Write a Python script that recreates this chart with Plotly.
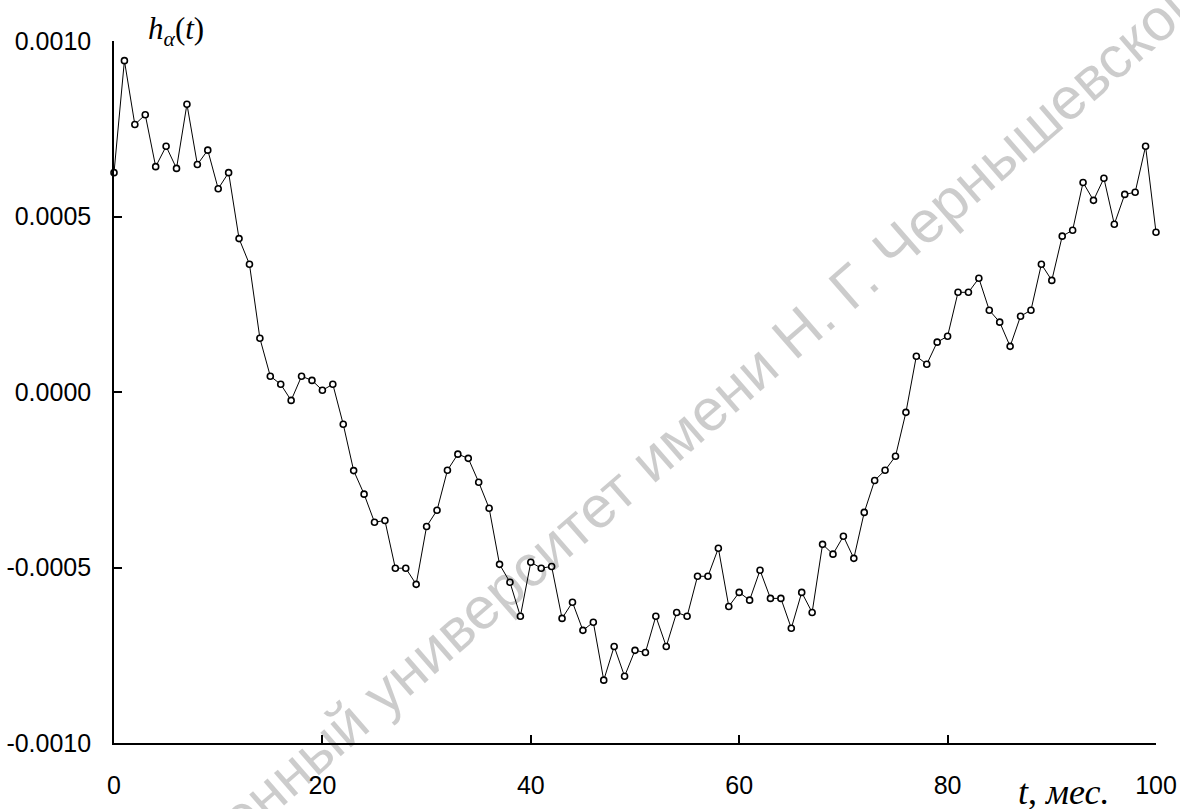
import plotly.graph_objects as go

# monthly values of h_alpha(t), in units of 1e-3
t_months = list(range(0, 101))
h_milli = [
    0.625, 0.944, 0.762, 0.790, 0.642, 0.700, 0.637, 0.820, 0.648, 0.689,
    0.579, 0.625, 0.437, 0.364, 0.153, 0.045, 0.022, -0.024, 0.045, 0.033,
    0.005, 0.022, -0.092, -0.224, -0.291, -0.371, -0.366, -0.502, -0.502, -0.548,
    -0.383, -0.337, -0.223, -0.177, -0.189, -0.257, -0.331, -0.491, -0.542, -0.639,
    -0.485, -0.502, -0.497, -0.645, -0.599, -0.679, -0.656, -0.821, -0.725, -0.810,
    -0.736, -0.742, -0.639, -0.725, -0.628, -0.639, -0.525, -0.525, -0.445, -0.611,
    -0.571, -0.593, -0.508, -0.588, -0.588, -0.673, -0.571, -0.628, -0.434, -0.462,
    -0.411, -0.474, -0.343, -0.252, -0.223, -0.183, -0.058, 0.102, 0.079, 0.142,
    0.159, 0.284, 0.284, 0.324, 0.233, 0.199, 0.130, 0.216, 0.233, 0.364,
    0.318, 0.444, 0.461, 0.597, 0.546, 0.609, 0.478, 0.563, 0.569, 0.700, 0.455,
]
h_values = [v * 1e-3 for v in h_milli]

x_ticks = [0, 20, 40, 60, 80, 100]
x_tick_labels = ["0", "20", "40", "60", "80", "100"]
y_ticks = [-0.001, -0.0005, 0.0, 0.0005, 0.001]
y_tick_labels = ["-0.0010", "-0.0005", "0.0000", "0.0005", "0.0010"]

W, H = 1180, 809
L, R, T, B = 114, 24, 41, 66
PW, PH = W - L - R, H - T - B


def px(xp):
    return (xp - L) / PW


def py(yp):
    return (H - B - yp) / PH


fig = go.Figure()
fig.add_trace(go.Scatter(
    x=t_months, y=h_values, mode="lines+markers",
    line=dict(color="black", width=1),
    marker=dict(symbol="circle", size=6, color="white",
                line=dict(color="black", width=1.6)),
    cliponaxis=False, showlegend=False,
))

tick_font = dict(family="Liberation Sans, Arial, sans-serif", size=25, color="black")
serif = "Liberation Serif, Times New Roman, serif"

fig.update_layout(
    width=W, height=H,
    margin=dict(l=L, r=R, t=T, b=B, pad=0, autoexpand=False),
    paper_bgcolor="white", plot_bgcolor="white",
    xaxis=dict(
        range=[0, 100], tickvals=x_ticks, ticktext=x_tick_labels,
        showline=True, linecolor="black", linewidth=1.6,
        ticks="inside", ticklen=8, tickwidth=1.6, tickcolor="black",
        showgrid=False, zeroline=False, tickfont=tick_font,
        ticklabelstandoff=19, automargin=False,
    ),
    yaxis=dict(
        range=[-0.001, 0.001], tickvals=y_ticks, ticktext=y_tick_labels,
        showline=True, linecolor="black", linewidth=1.6,
        ticks="inside", ticklen=8, tickwidth=1.6, tickcolor="black",
        showgrid=False, zeroline=False, tickfont=tick_font,
        ticklabelstandoff=16, automargin=False,
    ),
    annotations=[
        dict(
            text="Саратовский государственный университет имени Н. Г. Чернышевского",
            xref="paper", yref="paper", x=px(467), y=py(620),
            xanchor="center", yanchor="middle", textangle=-41, showarrow=False,
            font=dict(family="Liberation Sans, Arial, sans-serif", size=59,
                      color="rgba(0,0,0,0.2)"),
        ),
        dict(
            text="<i>h</i><sub><i>α</i></sub>(<i>t</i>)",
            xref="paper", yref="paper", x=px(146), y=py(31),
            xanchor="left", yanchor="middle", showarrow=False,
            font=dict(family=serif, size=31, color="black"),
        ),
        dict(
            text="<i>t</i>, <i>мес.</i>",
            xref="paper", yref="paper", x=px(1016), y=py(792),
            xanchor="left", yanchor="middle", showarrow=False,
            font=dict(family=serif, size=36, color="black"),
        ),
    ],
)

fig.write_html("out.html")
